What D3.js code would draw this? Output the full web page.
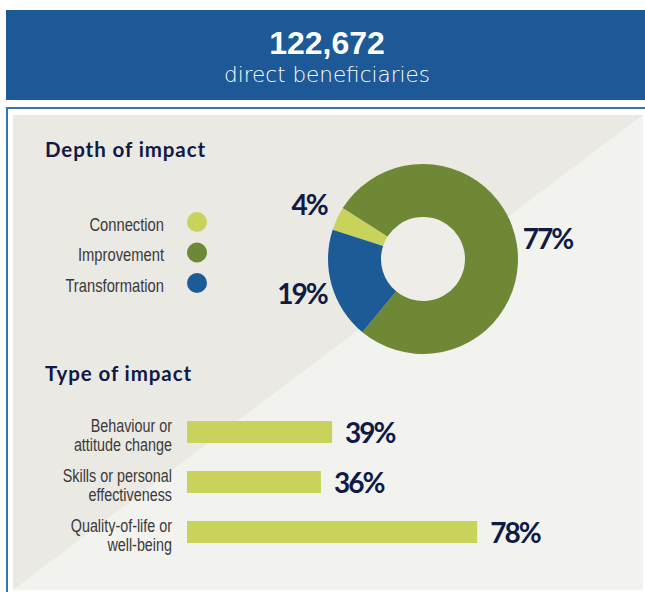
<!DOCTYPE html>
<html>
<head>
<meta charset="utf-8">
<script src="https://cdn.jsdelivr.net/npm/d3@7"></script>
<style>
  html, body { margin: 0; padding: 0; background: #ffffff; }
  svg { display: block; }
</style>
</head>
<body>
<svg id="chart" width="645" height="592"></svg>
<script>
// header
const headlineNumber = "122,672";
const headlineText = "direct beneficiaries";

// depth of impact (donut)
const depthTitle = "Depth of impact";
const depthCategories = ["Connection", "Improvement", "Transformation"];
const depthValues = [4, 77, 19];
const depthColors = ["#c9d25b", "#6e8835", "#1d5b97"];

// type of impact (bars)
const typeTitle = "Type of impact";
const typeLabels = [
  ["Behaviour or", "attitude change"],
  ["Skills or personal", "effectiveness"],
  ["Quality-of-life or", "well-being"]
];
const typeValues = [39, 36, 78];

const W = 645, H = 592;
const navy = "#0f1a45";
const pctFont = "Lato, 'Open Sans', sans-serif";
// no narrow face installed, so the plain sans is squeezed horizontally
const narrowFont = "'Liberation Sans', Arial, sans-serif";
const squeeze = 0.82;

const svg = d3.select("#chart");

// --- header band ---
svg.append("rect")
  .attr("x", 6).attr("y", 10)
  .attr("width", W - 6).attr("height", 90)
  .attr("fill", "#1c5996");

svg.append("text")
  .attr("x", 327).attr("y", 54)
  .attr("text-anchor", "middle")
  .attr("fill", "#ffffff")
  .style("font-family", "'Liberation Sans', Arial, sans-serif")
  .style("font-weight", "bold")
  .style("font-size", "32px")
  .text(headlineNumber);

svg.append("text")
  .attr("x", 327).attr("y", 82)
  .attr("text-anchor", "middle")
  .attr("fill", "#ffffff")
  .style("font-family", "'DejaVu Sans', sans-serif")
  .style("font-weight", 200)
  .style("font-size", "21.5px")
  .text(headlineText);

// --- panel with split background ---
svg.append("path")
  .attr("d", `M7,${H} V108 H${W}`)
  .attr("fill", "none")
  .attr("stroke", "#3a73b2")
  .attr("stroke-width", 2);

const bg = { x0: 13, y0: 115, x1: 643, y1: 590 };
svg.append("rect")
  .attr("x", bg.x0).attr("y", bg.y0)
  .attr("width", bg.x1 - bg.x0).attr("height", bg.y1 - bg.y0)
  .attr("fill", "#eae9e3");
svg.append("path")
  .attr("d", `M${bg.x1},${bg.y0} L${bg.x1},${bg.y1} L${bg.x0},${bg.y1} Z`)
  .attr("fill", "#f2f2ee");

// --- section titles ---
[[depthTitle, 157], [typeTitle, 381]].forEach(([t, ty]) => {
  svg.append("text")
    .attr("x", 45).attr("y", ty)
    .attr("fill", navy)
    .style("font-family", pctFont)
    .style("font-weight", "bold")
    .style("font-size", "20.5px")
    .style("letter-spacing", "0.9px")
    .text(t);
});

// --- legend ---
const legendY = d3.scalePoint()
  .domain(depthCategories)
  .range([222, 283]);
const color = d3.scaleOrdinal().domain(depthCategories).range(depthColors);

const legend = svg.append("g")
  .selectAll("g")
  .data(depthCategories)
  .join("g")
  .attr("transform", d => `translate(0,${legendY(d)})`);

legend.append("circle")
  .attr("cx", 197)
  .attr("r", 10)
  .attr("fill", d => color(d));

legend.append("text")
  .attr("transform", `translate(164,8.5) scale(${squeeze},1)`)
  .attr("text-anchor", "end")
  .attr("fill", "#3a3a3a")
  .style("font-family", narrowFont)
  .style("font-size", "18px")
  .text(d => d);

// --- donut ---
const cx = 423, cy = 259;
const outerR = 95, innerR = 42;
const pie = d3.pie()
  .sort(null)
  .value(d => d.value)
  .startAngle(-0.4 * Math.PI)
  .endAngle(1.6 * Math.PI);

const depthData = depthCategories.map((c, i) => ({ cat: c, value: depthValues[i] }));
const arcs = pie(depthData);
const arc = d3.arc().innerRadius(innerR).outerRadius(outerR);
const labelArc = d3.arc().innerRadius(126).outerRadius(126);

const donut = svg.append("g").attr("transform", `translate(${cx},${cy})`);

donut.append("circle")
  .attr("r", innerR)
  .attr("fill", "#eeede8");

donut.selectAll("path")
  .data(arcs)
  .join("path")
  .attr("d", arc)
  .attr("fill", d => color(d.data.cat));

donut.selectAll("text")
  .data(arcs)
  .join("text")
  .attr("transform", d => `translate(${labelArc.centroid(d)})`)
  .attr("text-anchor", "middle")
  .attr("dy", "0.36em")
  .attr("fill", navy)
  .style("font-family", pctFont)
  .style("font-weight", "bold")
  .style("font-size", "28px")
  .style("letter-spacing", "-2px")
  .text(d => d.data.value + "%");

// --- bars ---
const x = d3.scaleLinear().domain([0, 100]).range([187, 187 + 372]);
const y = d3.scalePoint().domain(d3.range(typeValues.length)).range([432, 532]);
const barH = 22;

const rows = svg.append("g")
  .selectAll("g")
  .data(typeValues)
  .join("g")
  .attr("transform", (d, i) => `translate(0,${y(i)})`);

rows.append("rect")
  .attr("x", x(0))
  .attr("y", -barH / 2)
  .attr("width", d => x(d) - x(0))
  .attr("height", barH)
  .attr("fill", depthColors[0]);

rows.append("text")
  .attr("x", d => x(d) + 13)
  .attr("y", barH / 2)
  .attr("fill", navy)
  .style("font-family", pctFont)
  .style("font-weight", "bold")
  .style("font-size", "28px")
  .style("letter-spacing", "-2px")
  .text(d => d + "%");

rows.append("text")
  .attr("transform", `translate(172,0) scale(${squeeze},1)`)
  .attr("text-anchor", "end")
  .attr("fill", "#3a3a3a")
  .style("font-family", narrowFont)
  .style("font-size", "17.5px")
  .selectAll("tspan")
  .data((d, i) => typeLabels[i])
  .join("tspan")
  .attr("x", 0)
  .attr("y", (d, j) => j * 19)
  .text(d => d);
</script>
</body>
</html>
